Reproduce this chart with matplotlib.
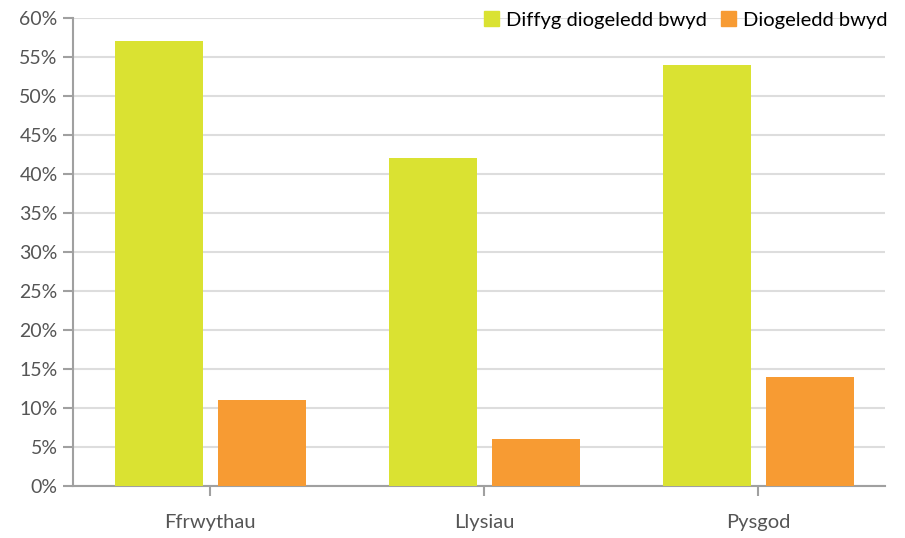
import matplotlib.pyplot as plt
import numpy as np
from matplotlib.patches import Patch

categories = ["Ffrwythau", "Llysiau", "Pysgod"]
diffyg = [57, 42, 54]
diogeledd = [11, 6, 14]
series_names = ["Diffyg diogeledd bwyd", "Diogeledd bwyd"]
colors = ["#DAE232", "#F79B33"]

plt.rcParams['font.family'] = ['Lato', 'DejaVu Sans']

fig = plt.figure(figsize=(9.05, 5.38), dpi=100)
ax = fig.add_axes([73 / 905, 1 - 486 / 538, 812 / 905, 468 / 538])

x = np.arange(len(categories))
w = 88 / 274
off = 51.5 / 274
ax.bar(x - off, diffyg, w, color=colors[0], zorder=3)
ax.bar(x + off, diogeledd, w, color=colors[1], zorder=3)

ax.set_xlim(-0.5, 2.463)
ax.set_ylim(0, 60)
ax.set_yticks(range(0, 61, 5))
ax.set_yticklabels([f"{v}%" for v in range(0, 61, 5)])
ax.set_xticks(x)
ax.set_xticklabels(categories)

ax.grid(axis='y', color='#dddddd', linewidth=1.5, zorder=0)
for s in ['top', 'right']:
    ax.spines[s].set_visible(False)
for s in ['left', 'bottom']:
    ax.spines[s].set_color('#a0a0a0')
    ax.spines[s].set_linewidth(1.5)
ax.tick_params(axis='y', length=7, width=1.5, color='#a0a0a0', labelsize=14,
               labelcolor='#555555', pad=4)
ax.tick_params(axis='x', length=7, width=1.5, color='#a0a0a0', labelsize=14.5,
               labelcolor='#555555', pad=13)

handles = [Patch(color=c) for c in colors]
fig.legend(handles, series_names, loc='upper right', bbox_to_anchor=(0.999, 1.009),
           ncol=2, frameon=False, fontsize=14.5, handlelength=0.75, handleheight=0.75,
           handletextpad=0.35, columnspacing=0.7, borderaxespad=0.4)

fig.savefig("out.png", dpi=100)
